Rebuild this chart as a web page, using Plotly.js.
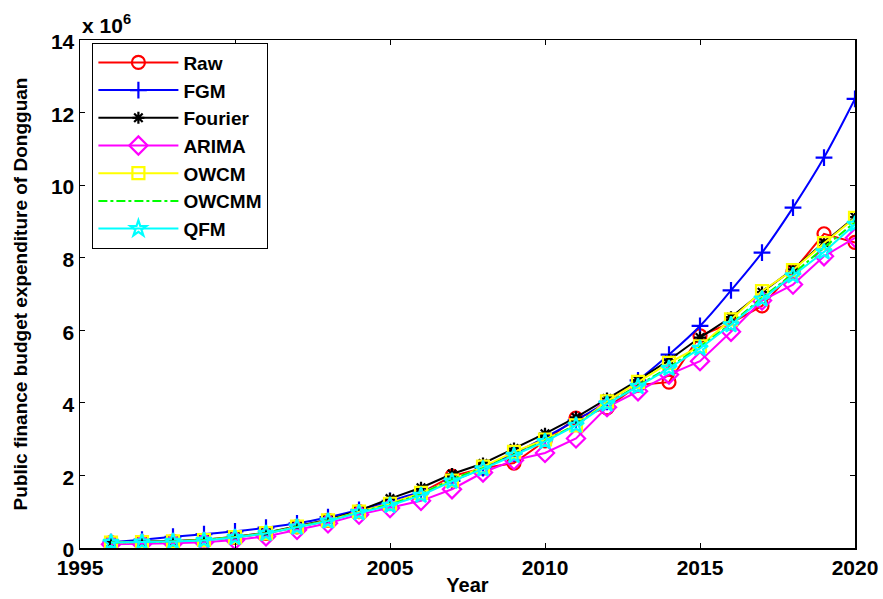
<!DOCTYPE html>
<html>
<head>
<meta charset="utf-8">
<script src="https://cdn.plot.ly/plotly-3.0.1.min.js"></script>
<style>html,body{margin:0;padding:0;background:#fff;}#chart{width:883px;height:599px;}</style>
</head>
<body>
<div id="chart"></div>
<script>
var years = [1996,1997,1998,1999,2000,2001,2002,2003,2004,2005,2006,2007,2008,2009,2010,2011,2012,2013,2014,2015,2016,2017,2018,2019,2020];
var raw     = [0.15,0.16,0.18,0.22,0.29,0.40,0.58,0.76,1.00,1.22,1.52,1.98,2.20,2.34,2.95,3.58,3.86,4.49,4.57,5.85,6.20,6.67,7.62,8.66,8.42];
var fgm     = [0.16,0.23,0.31,0.38,0.46,0.56,0.68,0.85,1.05,1.30,1.55,1.85,2.20,2.60,3.05,3.52,4.03,4.62,5.33,6.12,7.10,8.14,9.38,10.76,12.38];
var fourier = [0.16,0.17,0.19,0.23,0.31,0.42,0.60,0.78,1.03,1.36,1.66,2.04,2.33,2.74,3.15,3.60,4.12,4.62,5.18,5.80,6.36,7.05,7.68,8.42,9.12];
var arima   = [0.10,0.11,0.13,0.16,0.22,0.32,0.50,0.68,0.92,1.10,1.30,1.62,2.08,2.42,2.62,3.02,3.88,4.32,4.78,5.15,5.96,6.82,7.26,8.04,8.55];
var owcm    = [0.15,0.16,0.18,0.22,0.30,0.41,0.59,0.76,1.00,1.22,1.52,1.86,2.24,2.65,2.99,3.38,4.04,4.58,5.10,5.56,6.30,7.08,7.66,8.40,9.10];
var owcmm   = [0.15,0.16,0.18,0.22,0.30,0.41,0.58,0.75,0.99,1.20,1.48,1.90,2.20,2.58,2.95,3.40,3.98,4.48,4.98,5.55,6.18,6.90,7.55,8.28,8.98];
var qfm     = [0.15,0.16,0.18,0.21,0.29,0.40,0.57,0.74,0.97,1.17,1.45,1.84,2.18,2.55,2.93,3.38,3.97,4.45,4.95,5.50,6.15,6.86,7.50,8.16,8.92];
var seriesNames = ["Raw","FGM","Fourier","ARIMA","OWCM","OWCMM","QFM"];
var xTicks = [1995,2000,2005,2010,2015,2020];
var yTicks = [0,2,4,6,8,10,12,14];

var S = 1e6;
function sc(a){ return a.map(function(v){ return v*S; }); }
var styles = [
  {color:'#ff0000', symbol:'circle-open', size:13, dash:'solid', mode:'lines+markers'},
  {color:'#0000ff', symbol:'cross-thin-open', size:12, dash:'solid', mode:'lines+markers'},
  {color:'#000000', symbol:'asterisk-open', size:10, dash:'solid', mode:'lines+markers'},
  {color:'#ff00ff', symbol:'diamond-open', size:14, dash:'solid', mode:'lines+markers'},
  {color:'#ffff00', symbol:'square-open', size:12, dash:'solid', mode:'lines+markers'},
  {color:'#00ff00', symbol:'circle', size:1, dash:'dashdot', mode:'lines'},
  {color:'#00ffff', symbol:'star-open', size:12, dash:'solid', mode:'lines+markers'}
];
var data = [raw,fgm,fourier,arima,owcm,owcmm,qfm];
var traces = data.map(function(d,i){
  var s = styles[i];
  return {x:years, y:sc(d), name:seriesNames[i], type:'scatter', mode:s.mode,
    line:{color:s.color, width:2, dash:s.dash, shape: i===1 ? 'spline' : 'linear'},
    marker:{symbol:s.symbol, size:s.size, color:s.color, line:{color:s.color, width:2.2}}};
});

var fam = '"Liberation Sans", Arial, sans-serif';
var tickFont = {family:fam, size:21, color:'#000', weight:'bold'};
var layout = {
  width:883, height:599,
  margin:{l:80, r:28, t:40, b:51},
  paper_bgcolor:'#fff', plot_bgcolor:'#fff',
  showlegend:true,
  xaxis:{range:[1995,2020], tickvals:xTicks, ticktext:xTicks.map(String), ticks:'inside', ticklen:5, tickwidth:1, tickcolor:'#000',
    showline:true, linecolor:'#000', linewidth:1.5, mirror:'ticks', showgrid:false, zeroline:false,
    tickfont:tickFont,
    title:{text:'<b>Year</b>', font:{family:fam, size:20, color:'#000'}, standoff:0}},
  yaxis:{range:[0,14*S], tickvals:yTicks.map(function(v){return v*S;}), ticktext:yTicks.map(String), ticks:'inside', ticklen:5, tickwidth:1, tickcolor:'#000',
    showline:true, linecolor:'#000', linewidth:1.5, mirror:'ticks', showgrid:false, zeroline:false,
    tickfont:tickFont, ticklabelshift:2,
    title:{text:'<b>Public finance budget expenditure of Dongguan</b>', font:{family:fam, size:19, color:'#000'}, standoff:18}},
  legend:{x:0.016, y:0.995, xanchor:'left', yanchor:'top', bgcolor:'#fff', bordercolor:'#000', borderwidth:1,
    font:{family:fam, size:19, color:'#000', weight:'bold'}, itemwidth:80, tracegroupgap:0},
  annotations:[{xref:'paper', yref:'paper', x:0, y:1, xanchor:'left', yanchor:'bottom', yshift:1, showarrow:false,
    text:'<b>x 10<sup>6</sup></b>', font:{family:fam, size:21, color:'#000'}}]
};
Plotly.newPlot('chart', traces, layout, {displayModeBar:false, staticPlot:true});
</script>
</body>
</html>
